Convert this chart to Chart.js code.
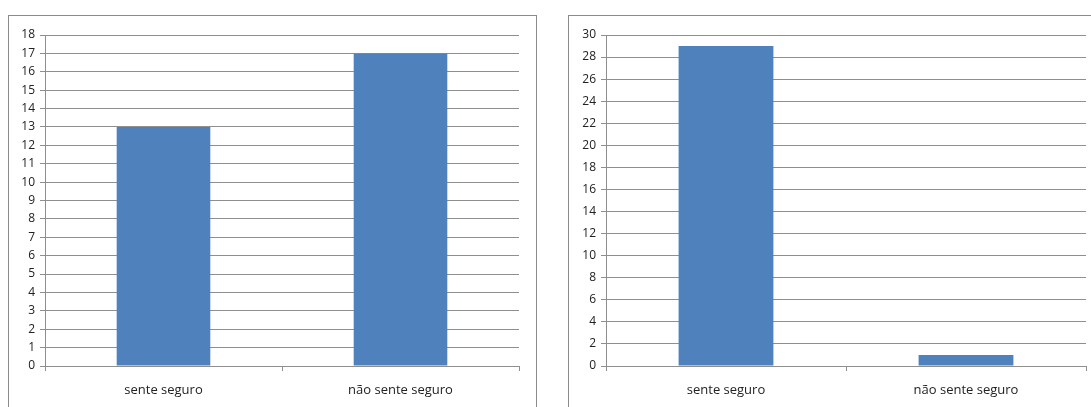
<!DOCTYPE html>
<html>
<head>
<meta charset="utf-8">
<script src="https://cdn.jsdelivr.net/npm/chart.js@4/dist/chart.umd.min.js"></script>
<style>
html,body{margin:0;padding:0;background:#fff;width:1091px;height:407px;overflow:hidden;position:relative;}
.frame{position:absolute;border:1px solid #8a8a8a;background:#fff;}
#f1{left:8px;top:15px;width:527px;height:420px;}
#f2{left:568px;top:15px;width:560px;height:420px;}
.box{position:absolute;left:0;top:0;}
</style>
</head>
<body>
<div class="frame" id="f1"><div class="box" style="width:527px;height:391px;"><canvas id="c1"></canvas></div></div>
<div class="frame" id="f2"><div class="box" style="width:522px;height:391px;"><canvas id="c2"></canvas></div></div>
<script>
const categories = ["sente seguro", "não sente seguro"];
const valuesLeft = [13, 17];
const valuesRight = [29, 1];
const yMaxLeft = 18, yStepLeft = 1;
const yMaxRight = 30, yStepRight = 2;

const FONT = "'Open Sans', 'Liberation Sans', sans-serif";
const GRID = '#8f8f8f';

function makeChart(id, values, yMax, yStep, pad, yWidth) {
  return new Chart(document.getElementById(id), {
    type: 'bar',
    data: {
      labels: categories,
      datasets: [{
        data: values,
        backgroundColor: '#4F81BD',
        borderWidth: 0,
        categoryPercentage: 1,
        barPercentage: 0.395
      }]
    },
    options: {
      responsive: true,
      maintainAspectRatio: false,
      animation: false,
      devicePixelRatio: 1,
      layout: { padding: pad },
      plugins: { legend: { display: false }, tooltip: { enabled: false } },
      scales: {
        x: {
          grid: { display: true, offset: true, drawOnChartArea: false, color: GRID, tickLength: 5 },
          border: { display: true, color: GRID },
          ticks: { font: { family: FONT, size: 13 }, color: '#222', padding: 11 },
          afterFit: s => { s.height = 41; }
        },
        y: {
          min: 0, max: yMax,
          grid: { color: GRID, tickLength: 5 },
          border: { display: true, color: GRID },
          ticks: { stepSize: yStep, font: { family: FONT, size: 12 }, color: '#222', padding: 5 },
          afterFit: s => { s.width = yWidth; }
        }
      }
    }
  });
}

makeChart('c1', valuesLeft, yMaxLeft, yStepLeft, { top: 19, right: 17, left: 0, bottom: 0 }, 36);
makeChart('c2', valuesRight, yMaxRight, yStepRight, { top: 19, right: 5, left: 0, bottom: 0 }, 37);
</script>
</body>
</html>
